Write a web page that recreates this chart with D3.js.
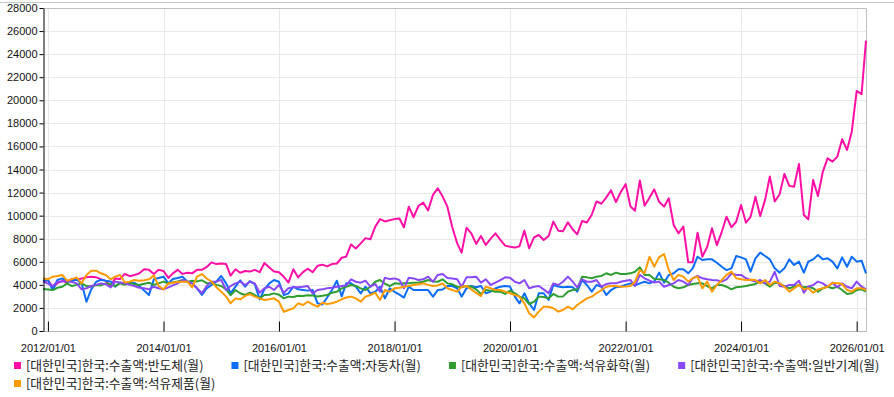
<!DOCTYPE html>
<html>
<head>
<meta charset="utf-8">
<script src="https://cdn.jsdelivr.net/npm/d3@7"></script>
<style>
  body { margin: 0; background: #fff; }
  svg { display: block; }
</style>
</head>
<body>
<script>
// monthly series, first month 2011-12, last 2026-03
const firstMonth = new Date(2011, 11, 1);

const seriesNames = [
    "[대한민국]한국:수출액:반도체(월)",
    "[대한민국]한국:수출액:자동차(월)",
    "[대한민국]한국:수출액:석유화학(월)",
    "[대한민국]한국:수출액:일반기계(월)",
    "[대한민국]한국:수출액:석유제품(월)"
];
const seriesColors = ["#ff0fa6", "#0a6cf7", "#2e9e30", "#8a47f7", "#ff9a00"];

const semiconductor = [4270,
    4420, 3800, 4150, 4350, 4200, 4500, 4450, 4550, 4650, 4700, 4650, 4500,
    4350, 3900, 4550, 4500, 4950, 4750, 4850, 5000, 5350, 5300, 4950, 5300,
    5200, 4600, 5000, 5300, 4950, 5050, 5000, 5300, 5300, 5550, 5950, 5800,
    5850, 5800, 4800, 5350, 5050, 5200, 5150, 5300, 5100, 5900, 5500, 5150,
    5100, 4700, 4200, 5350, 4650, 5100, 5400, 5100, 5650, 5750, 5600, 5800,
    5850, 6350, 6450, 7500, 7150, 7600, 8050, 7950, 9050, 9700, 9500, 9600,
    9700, 9750, 8980, 10780, 9860, 10840, 11130, 10440, 11800, 12370, 11650, 10780,
    9000, 7600, 6790, 8960, 8470, 7550, 8240, 7460, 8000, 8470, 7900, 7400,
    7300, 7230, 7350, 8700, 7170, 8120, 8320, 7890, 8240, 9480, 8700, 8650,
    9420, 8800, 8380, 9540, 9400, 10080, 11230, 11030, 11580, 12190, 11180, 12040,
    12730, 10800, 10420, 13050, 10860, 11550, 12280, 11200, 10780, 11500, 9190, 8470,
    9050, 5950, 5950, 8520, 6440, 7300, 8900, 7440, 8600, 9910, 8990, 9470,
    10920, 9390, 9900, 11640, 9970, 11370, 13390, 11230, 11860, 13620, 12580, 12500,
    14480, 10060, 9680, 13090, 11700, 13810, 14970, 14680, 15120, 16620, 15700, 17280,
    20810, 20520, 25170];

const automobile = [4360,
    4420, 3550, 4420, 4560, 4270, 4350, 4450, 4130, 2540, 3610, 4250, 4450,
    4350, 4300, 3840, 4180, 4100, 4130, 4180, 3900, 3500, 3120, 4480, 4600,
    4710, 4130, 4500, 4600, 4710, 4270, 4130, 3700, 3120, 3700, 3990, 4280,
    4770, 4130, 3270, 3850, 4400, 3840, 4330, 4070, 2740, 3610, 4130, 4420,
    4270, 3110, 3260, 3840, 3610, 3550, 3500, 3550, 2400, 2300, 2900, 3550,
    4360, 3000, 4130, 4130, 3840, 3260, 3840, 3260, 3400, 3840, 2830, 3700,
    3400, 3150, 2900, 3840, 3550, 3550, 3550, 3550, 2980, 3550, 3600, 3900,
    3900, 3700, 2980, 3700, 3900, 3800, 3900, 3270, 3410, 3700, 3840, 3900,
    3850, 2980, 2400, 3270, 2400, 1820, 3270, 3270, 2690, 3990, 3850, 3800,
    3840, 3800, 3410, 4420, 3990, 3410, 3990, 3840, 3120, 3550, 3800, 3840,
    4000, 4130, 3950, 4130, 4270, 4130, 4300, 5060, 4190, 4860, 5000, 5350,
    5350, 5000, 5430, 6440, 6150, 6210, 6210, 5920, 5570, 5280, 5430, 6500,
    6380, 6210, 5140, 6300, 6790, 6500, 6210, 5430, 5060, 5430, 6210, 5720,
    6010, 5060, 6010, 6210, 6590, 6210, 6300, 6010, 5430, 6380, 5570, 6440,
    6010, 6100, 5000];

const petrochemical = [3650,
    3600, 3550, 3750, 3840, 4130, 3900, 4000, 4130, 3900, 3850, 3990, 3950,
    4130, 4050, 3900, 4130, 4000, 4190, 4050, 3990, 4100, 4190, 4000, 4130,
    4280, 4100, 4200, 4300, 4420, 4250, 4350, 4300, 4400, 4150, 4130, 4000,
    3900, 3610, 3100, 3550, 3270, 3120, 3320, 3120, 2830, 3120, 3150, 3260,
    3150, 2830, 2980, 2950, 3050, 3030, 3100, 3080, 3000, 3050, 3120, 3320,
    3410, 3700, 3840, 3990, 3900, 3700, 3550, 3840, 4270, 4420, 4100, 3900,
    4130, 4100, 4130, 4150, 4190, 4200, 4270, 4420, 4300, 4270, 4480, 4130,
    4050, 3840, 3790, 3900, 3840, 3610, 3210, 3550, 3500, 3410, 3410, 3210,
    3500, 3270, 2980, 2830, 2340, 2540, 2980, 2950, 2830, 3210, 2980, 3000,
    3410, 3550, 3610, 4710, 4650, 4570, 4710, 4770, 5000, 4860, 5060, 4940,
    4950, 5000, 5140, 5520, 4860, 4860, 4500, 4480, 4420, 4190, 3840, 3700,
    3790, 3990, 4080, 4130, 4130, 3900, 3700, 3990, 3990, 3840, 3610, 3790,
    3840, 3900, 3990, 4080, 4280, 4130, 3840, 4190, 4130, 3900, 3700, 3840,
    3990, 3790, 3840, 3700, 3410, 3700, 3840, 3700, 3840, 3550, 3210, 3270,
    3550, 3610, 3410];

const machinery = [4280,
    4100, 3900, 4280, 4300, 4360, 4250, 4130, 3610, 3700, 3900, 4000, 4130,
    4050, 3780, 4280, 4200, 4130, 4000, 3900, 3750, 3700, 3610, 3840, 3700,
    3610, 3780, 3950, 4130, 4420, 4300, 4130, 3700, 3270, 3900, 4280, 4300,
    4420, 3550, 3900, 4130, 4280, 3990, 4270, 4130, 3320, 3700, 3840, 3550,
    3990, 3320, 3700, 3790, 3800, 3840, 3900, 3260, 3550, 3610, 3700, 3750,
    3840, 3900, 3950, 4480, 4270, 4190, 4360, 3840, 4070, 3410, 4620, 4500,
    4560, 4420, 3700, 4620, 4560, 4420, 4480, 4710, 4270, 4860, 4940, 4600,
    4560, 4480, 3840, 4650, 4650, 4710, 4190, 4480, 3990, 4190, 4420, 4650,
    4620, 4270, 4130, 4420, 3700, 3840, 3900, 3610, 3270, 4130, 3990, 4270,
    4710, 4270, 3780, 4480, 4270, 4270, 4420, 3840, 4070, 4130, 4130, 4270,
    4350, 4420, 3900, 4860, 4570, 4360, 4200, 4280, 3840, 3990, 4130, 4420,
    4280, 3990, 4570, 4770, 4570, 4480, 4420, 4400, 4280, 4480, 5000, 4860,
    4860, 4570, 4420, 4280, 4420, 4130, 4280, 5140, 3900, 3840, 3990, 3990,
    4360, 3320, 3840, 3990, 4280, 4130, 3840, 4190, 3790, 4130, 3840, 3700,
    4280, 3840, 3610];

const petroleum = [4570,
    4480, 4710, 4770, 4860, 4360, 4500, 4650, 4130, 4860, 5230, 5230, 5000,
    4860, 4480, 4710, 4860, 4200, 4280, 4420, 4360, 4400, 4480, 4800, 3900,
    3610, 4130, 4190, 4250, 4280, 4280, 3780, 4710, 4940, 4550, 4280, 3800,
    3410, 2980, 2400, 2830, 2740, 3030, 3200, 2980, 2830, 2690, 2750, 2830,
    2540, 1670, 1820, 1960, 2400, 2250, 2540, 2300, 2110, 2450, 2340, 2400,
    2540, 2750, 2900, 2980, 2830, 2540, 2980, 3120, 3320, 2690, 3550, 3410,
    3700, 3750, 3840, 3900, 3990, 4050, 4130, 4000, 3900, 3950, 4130, 3700,
    3550, 3410, 3840, 3900, 3610, 3300, 3030, 3840, 3700, 3550, 3550, 3410,
    3270, 3120, 2980, 2400, 1530, 1180, 1680, 2110, 2100, 1970, 1680, 1820,
    2110, 1880, 2250, 2540, 2830, 2980, 3270, 3550, 3840, 3900, 3900, 3840,
    3850, 3900, 4270, 5280, 5000, 6440, 5580, 6400, 6670, 5290, 4420, 4860,
    4710, 4280, 4570, 4710, 3700, 4280, 3410, 3990, 4420, 4860, 5140, 4570,
    4480, 4420, 4450, 4420, 4130, 4420, 3990, 4280, 4130, 3840, 3410, 3700,
    3990, 3610, 3700, 3320, 3610, 3700, 3840, 4190, 4130, 4080, 3550, 3410,
    3700, 3700, 3550];

const allSeries = [semiconductor, automobile, petrochemical, machinery, petroleum];
const yTicks = [0, 2000, 4000, 6000, 8000, 10000, 12000, 14000, 16000, 18000, 20000, 22000, 24000, 26000, 28000];

const width = 894, height = 397;
const plotLeft = 43, plotRight = 866, plotTop = 8, plotBottom = 331;

const months = allSeries[0].map((v, i) => d3.timeMonth.offset(firstMonth, i));

const svg = d3.select("body").append("svg")
    .attr("width", width)
    .attr("height", height);

const x = d3.scaleTime()
    .domain([months[0], months[months.length - 1]])
    .range([plotLeft, plotRight]);

const y = d3.scaleLinear()
    .domain([0, 28000])
    .range([plotBottom, plotTop]);

const xTicks = d3.timeYear.every(2).range(new Date(2012, 0, 1), new Date(2026, 1, 1));

// page top rule
svg.append("line")
    .attr("x1", 0).attr("x2", width)
    .attr("y1", 2.5).attr("y2", 2.5)
    .attr("stroke", "#c8c8c8");

// grid
svg.append("g").selectAll("line")
    .data(yTicks.filter(d => d > 0 && d < 28000))
    .enter().append("line")
    .attr("x1", plotLeft).attr("x2", plotRight)
    .attr("y1", d => Math.round(y(d)) + 0.5)
    .attr("y2", d => Math.round(y(d)) + 0.5)
    .attr("stroke", "#e8e8e8");

svg.append("g").selectAll("line")
    .data(xTicks)
    .enter().append("line")
    .attr("x1", d => Math.round(x(d)) + 0.5)
    .attr("x2", d => Math.round(x(d)) + 0.5)
    .attr("y1", plotTop).attr("y2", plotBottom)
    .attr("stroke", "#e8e8e8");

// plot frame (top and right)
svg.append("path")
    .attr("d", `M${plotLeft},${plotTop + 0.5}H${plotRight + 0.5}V${plotBottom}`)
    .attr("fill", "none")
    .attr("stroke", "#c0c0c0");

// lines
const line = d3.line()
    .x((d, i) => x(months[i]))
    .y(d => y(d));

svg.append("g").selectAll("path")
    .data(allSeries)
    .enter().append("path")
    .attr("d", d => line(d))
    .attr("fill", "none")
    .attr("stroke", (d, i) => seriesColors[i])
    .attr("stroke-width", 2)
    .attr("stroke-linejoin", "round");

// x axis
const xAxis = svg.append("g")
    .attr("transform", `translate(0,${plotBottom + 0.5})`)
    .call(d3.axisBottom(x)
        .tickValues(xTicks)
        .tickFormat(d3.timeFormat("%Y/%m/%d"))
        .tickSizeInner(-10)
        .tickSizeOuter(0)
        .tickPadding(13));
xAxis.select(".domain").attr("stroke", "#b8b8b8").attr("d", `M${plotLeft},0H${plotRight + 0.5}`);
xAxis.selectAll(".tick line").attr("stroke", "#000");
xAxis.selectAll("text")
    .attr("fill", "#111")
    .style("font-family", "'Liberation Sans', Arial, sans-serif")
    .style("font-size", "11px");

// y axis
const yAxis = svg.append("g")
    .attr("transform", `translate(${plotLeft + 0.5},0)`)
    .call(d3.axisLeft(y)
        .tickValues(yTicks)
        .tickFormat(d3.format("d"))
        .tickSizeInner(4)
        .tickSizeOuter(0)
        .tickPadding(2));
yAxis.select(".domain").attr("stroke", "#000");
yAxis.selectAll(".tick line").attr("stroke", "#000");
yAxis.selectAll("text")
    .attr("fill", "#111")
    .style("font-family", "'Liberation Sans', Arial, sans-serif")
    .style("font-size", "11px");

// legend, flowing left to right
const legend = svg.append("g");
let lx = 14, row = 0;
const rowY = [365.5, 383.5];
seriesNames.forEach((name, i) => {
    const g = legend.append("g");
    const t = g.append("text")
        .attr("x", 12)
        .attr("dy", "0.35em")
        .attr("fill", "#222")
        .style("font-family", "'Noto Sans CJK KR', sans-serif")
        .style("font-size", "12.8px")
        .text(name);
    const w = 12 + t.node().getComputedTextLength();
    if (lx + w > width - 2) { lx = 14; row++; }
    g.attr("transform", `translate(${lx},${rowY[row]})`);
    g.append("rect")
        .attr("x", 0).attr("y", -3.5)
        .attr("width", 7).attr("height", 7)
        .attr("fill", seriesColors[i]);
    lx += w + 28;
});
</script>
</body>
</html>
